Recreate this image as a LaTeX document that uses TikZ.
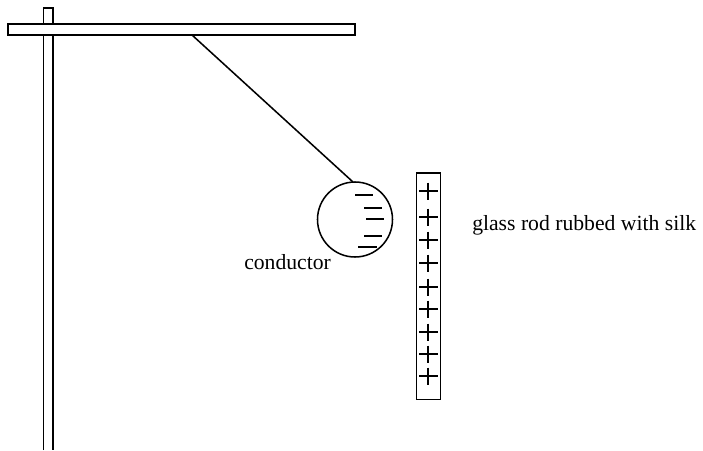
\documentclass[tikz,border=0pt]{standalone}
\usepackage{fontspec}
\setmainfont{Liberation Serif}
\tikzset{
  x=0.75pt,y=-0.75pt,
  ink/.style={draw=black,line width=1.15pt},
  barbox/.style={ink,fill=white},
  charge/.style={ink},
  label/.style={inner sep=0pt,anchor=base west,font=\fontsize{16.25pt}{18pt}\selectfont}
}
\begin{document}
\begin{tikzpicture}
\useasboundingbox (0,0) rectangle (703,450);
% stand
\draw[ink] (43.7,450) -- (43.7,8) -- (53,8) -- (53,450);
\draw[barbox] (8,24) rectangle (355,35);
% thread and conductor
\coordinate (hang) at (192,35);
\node[ink,circle,minimum size=56.25pt,inner sep=0pt] (ball) at (355,219.5) {};
\coordinate (tie) at (353,182);
\draw[ink] (hang) -- (tie);
\foreach \a/\b/\y in {355/373/195,364/382/208,366/384/219,364/382/236,358/377/247}
  \draw[charge] (\a,\y) -- (\b,\y);
% glass rod
\draw[ink] (416.7,173) rectangle (440.3,399.5);
\foreach \y in {191,217,240,263,287,309,332,354,376}{
  \draw[charge] (419,\y) -- (437.5,\y);
  \draw[charge] (428,\y-8.5) -- (428,\y+8.5);
}
% labels
\node[label] (cond) at (244,269) {conductor};
\node[label] (rod) at (472,230) {glass rod rubbed with silk};
\end{tikzpicture}
\end{document}
